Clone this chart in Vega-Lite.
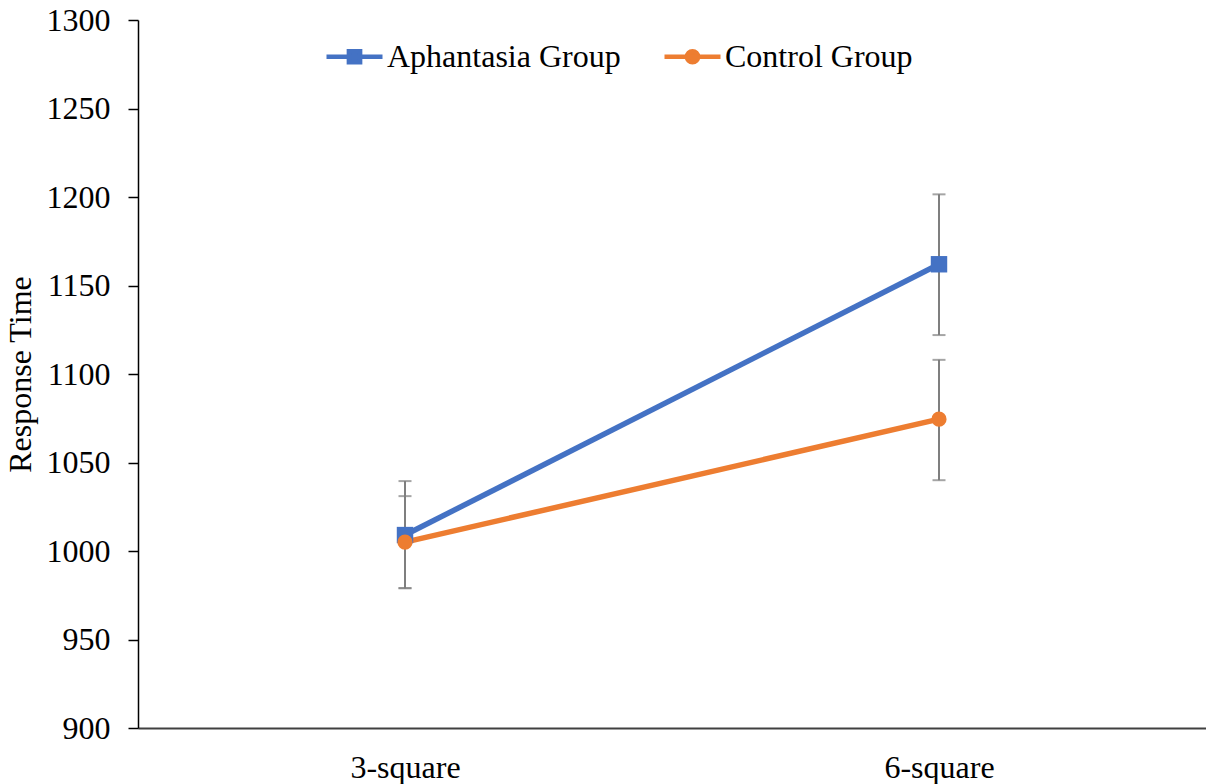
{
  "$schema": "https://vega.github.io/schema/vega-lite/v6.json",
  "width": 1068,
  "height": 708,
  "autosize": {"type": "none"},
  "padding": {"left": 138, "top": 20, "right": 0, "bottom": 56},
  "background": "white",
  "config": {
    "view": {"stroke": null},
    "font": "Liberation Serif",
    "axis": {"grid": false, "labelFont": "Liberation Serif", "titleFont": "Liberation Serif", "labelColor": "black", "titleColor": "black", "titleFontWeight": "normal", "labelFontSize": 32, "titleFontSize": 32}
  },
  "data": {
    "values": [
      {"group": "Aphantasia Group", "cond": "3-square", "mean": 1009, "lo": 979, "hi": 1039.5},
      {"group": "Aphantasia Group", "cond": "6-square", "mean": 1162, "lo": 1122, "hi": 1201.5},
      {"group": "Control Group", "cond": "3-square", "mean": 1005, "lo": 979, "hi": 1031},
      {"group": "Control Group", "cond": "6-square", "mean": 1074.5, "lo": 1040, "hi": 1108}
    ]
  },
  "encoding": {
    "x": {
      "field": "cond", "type": "nominal", "sort": ["3-square", "6-square"],
      "scale": {"type": "point", "padding": 0.5},
      "axis": {"title": null, "labelAngle": 0, "ticks": false, "labelPadding": 24, "domainColor": "#404040", "domainWidth": 2}
    }
  },
  "layer": [
    {
      "mark": {"type": "rule", "color": "#7f7f7f", "strokeWidth": 2},
      "encoding": {
        "y": {"field": "lo", "type": "quantitative", "scale": {"domain": [900, 1300], "nice": false, "zero": false},
          "axis": {"title": "Response Time", "format": "d", "values": [900, 950, 1000, 1050, 1100, 1150, 1200, 1250, 1300], "tickSize": 10, "tickColor": "black", "domainColor": "black", "domainWidth": 1.5, "tickWidth": 1.5, "labelPadding": 18, "titlePadding": 9}},
        "y2": {"field": "hi"}
      }
    },
    {
      "mark": {"type": "tick", "color": "#7f7f7f", "size": 13, "thickness": 2},
      "encoding": {"y": {"field": "lo", "type": "quantitative"}}
    },
    {
      "mark": {"type": "tick", "color": "#7f7f7f", "size": 13, "thickness": 2},
      "encoding": {"y": {"field": "hi", "type": "quantitative"}}
    },
    {
      "mark": {"type": "line", "strokeWidth": 5.5},
      "encoding": {
        "y": {"field": "mean", "type": "quantitative"},
        "color": {
          "field": "group", "type": "nominal",
          "scale": {"domain": ["Aphantasia Group", "Control Group"], "range": ["#4472C4", "#ED7D31"]},
          "legend": {
            "title": null, "orient": "none", "direction": "horizontal", "legendX": 186, "legendY": 6,
            "labelFont": "Liberation Serif", "labelFontSize": 32, "labelColor": "black", "labelLimit": 0,
            "symbolSize": 3136, "labelOffset": 2, "columnPadding": 34,
            "encode": {
              "symbols": {
                "update": {
                  "shape": {"signal": "datum.value === 'Aphantasia Group' ? 'M-1,0H1M-0.2,-0.2H0.2V0.2H-0.2Z' : 'M-1,0H1M0.2,0A0.2,0.2 0 1,1 -0.2,0A0.2,0.2 0 1,1 0.2,0Z'"},
                  "stroke": {"signal": "datum.value === 'Aphantasia Group' ? '#4472C4' : '#ED7D31'"},
                  "fill": {"signal": "datum.value === 'Aphantasia Group' ? '#4472C4' : '#ED7D31'"},
                  "strokeWidth": {"value": 4.5},
                  "opacity": {"value": 1},
                  "fillOpacity": {"value": 1}
                }
              }
            }
          }
        }
      }
    },
    {
      "mark": {"type": "point", "filled": true, "opacity": 1},
      "encoding": {
        "y": {"field": "mean", "type": "quantitative"},
        "color": {"field": "group", "type": "nominal", "legend": null},
        "shape": {"condition": {"test": "datum.group === 'Control Group'", "value": "circle"}, "value": "square"},
        "size": {"condition": {"test": "datum.group === 'Control Group'", "value": 230}, "value": 270}
      }
    }
  ]
}
